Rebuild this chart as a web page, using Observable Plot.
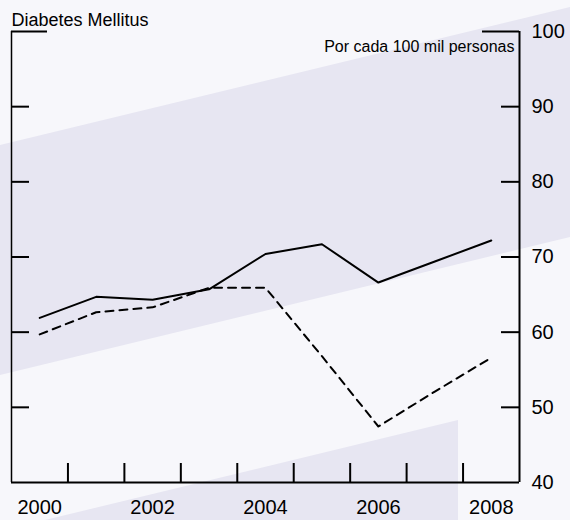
<!DOCTYPE html>
<html>
<head>
<meta charset="utf-8">
<script src="https://cdn.jsdelivr.net/npm/d3@7"></script>
<script src="https://cdn.jsdelivr.net/npm/@observablehq/plot@0.6"></script>
<style>
  html, body { margin: 0; padding: 0; background: #f7f7fb; }
  #chart svg { display: block; }
</style>
</head>
<body>
<div id="chart"></div>
<script>
// ---- Data ----
const years = [2000, 2001, 2002, 2003, 2004, 2005, 2006, 2007, 2008];
const serieSolida = [61.9, 64.7, 64.3, 65.7, 70.4, 71.7, 66.6, 69.4, 72.2];
const serieDiscontinua = [59.7, 62.65, 63.3, 65.9, 65.9, 56.8, 47.45, 52.1, 56.6];
const yTicks = [40, 50, 60, 70, 80, 90, 100];
const xTickLabels = [2000, 2002, 2004, 2006, 2008];
const xTickMarks = [2000.5, 2001.5, 2002.5, 2003.5, 2004.5, 2005.5, 2006.5, 2007.5];
const titulo = "Diabetes Mellitus";
const subtitulo = "Por cada 100 mil personas";

const solid = years.map((y, i) => ({year: y, value: serieSolida[i]}));
const dashed = years.map((y, i) => ({year: y, value: serieDiscontinua[i]}));

const BG = "#f7f7fb";
const BAND = "#e7e6f2";
const FONT = "Liberation Sans, Arial, Helvetica, sans-serif";

// decorative diagonal bands behind the chart (in relative page coordinates)
function bands(index, scales, values, dims) {
  const w = dims.width, h = dims.height;
  const g = d3.create("svg:g");
  g.append("rect").attr("width", w).attr("height", h).attr("fill", BG);
  const b1 = [[0, 145/520], [1, 7/520], [1, 237/520], [0, 375/520]];
  const b2 = [[45/570, 1], [458/570, 420/520], [458/570, 1]];
  for (const p of [b1, b2]) {
    g.append("polygon")
      .attr("points", p.map(([fx, fy]) => `${fx * w},${fy * h}`).join(" "))
      .attr("fill", BAND);
  }
  return g.node();
}

const W = 570, H = 520;
const mL = 11, mR = 51, mT = 31, mB = 38;
const frameW = W - mL - mR, frameH = H - mT - mB;

const chart = Plot.plot({
  width: W,
  height: H,
  marginLeft: mL,
  marginRight: mR,
  marginTop: mT,
  marginBottom: mB,
  style: {fontFamily: FONT, background: "transparent", color: "#000", overflow: "visible"},
  x: {domain: [1999.5, 2008.5], axis: null},
  y: {domain: [40, 100], axis: null},
  marks: [
    bands,
    // left frame line
    Plot.ruleX([1999.5], {stroke: "#000", strokeWidth: 1.5}),
    // left inward ticks
    Plot.tickY(yTicks.filter(d => d > 40 && d < 100), {y: d => d, stroke: "#000", strokeWidth: 2, insetRight: frameW - 18}),
    // right inward ticks
    Plot.tickY(yTicks.filter(d => d > 40 && d < 100), {y: d => d, stroke: "#000", strokeWidth: 2, insetLeft: frameW - 18}),
    // top short segments
    Plot.tickY([100], {y: d => d, stroke: "#000", strokeWidth: 2, insetRight: frameW - 36}),
    Plot.tickY([100], {y: d => d, stroke: "#000", strokeWidth: 2, insetLeft: frameW - 37}),
    // bottom inward ticks
    Plot.tickX(xTickMarks, {x: d => d, stroke: "#000", strokeWidth: 2, insetTop: frameH - 19}),
    // bottom baseline and right axis
    Plot.ruleY([40], {stroke: "#000", strokeWidth: 2}),
    Plot.ruleX([2008.5], {stroke: "#000", strokeWidth: 2}),
    // data lines
    Plot.line(dashed, {x: "year", y: "value", stroke: "#000", strokeWidth: 2, strokeDasharray: "8,6"}),
    Plot.line(solid, {x: "year", y: "value", stroke: "#000", strokeWidth: 2}),
    // y labels on the right
    Plot.text(yTicks, {x: 2008.5, y: d => d, text: d => String(d), dx: 12, textAnchor: "start", lineAnchor: "middle", fontSize: 20, fill: "#000"}),
    // x labels
    Plot.text(xTickLabels, {x: d => d, y: 40, text: d => String(d), dy: 25, lineAnchor: "middle", fontSize: 20, fill: "#000"}),
    // title and subtitle
    Plot.text([titulo], {x: 1999.5, y: 100, text: d => d, dy: -11.5, textAnchor: "start", lineAnchor: "middle", fontSize: 18, fill: "#000"}),
    Plot.text([subtitulo], {x: 2008.5, y: 100, text: d => d, dx: -5, dy: 15, textAnchor: "end", lineAnchor: "middle", fontSize: 16, fill: "#000"})
  ]
});

document.getElementById("chart").appendChild(chart);
</script>
</body>
</html>
